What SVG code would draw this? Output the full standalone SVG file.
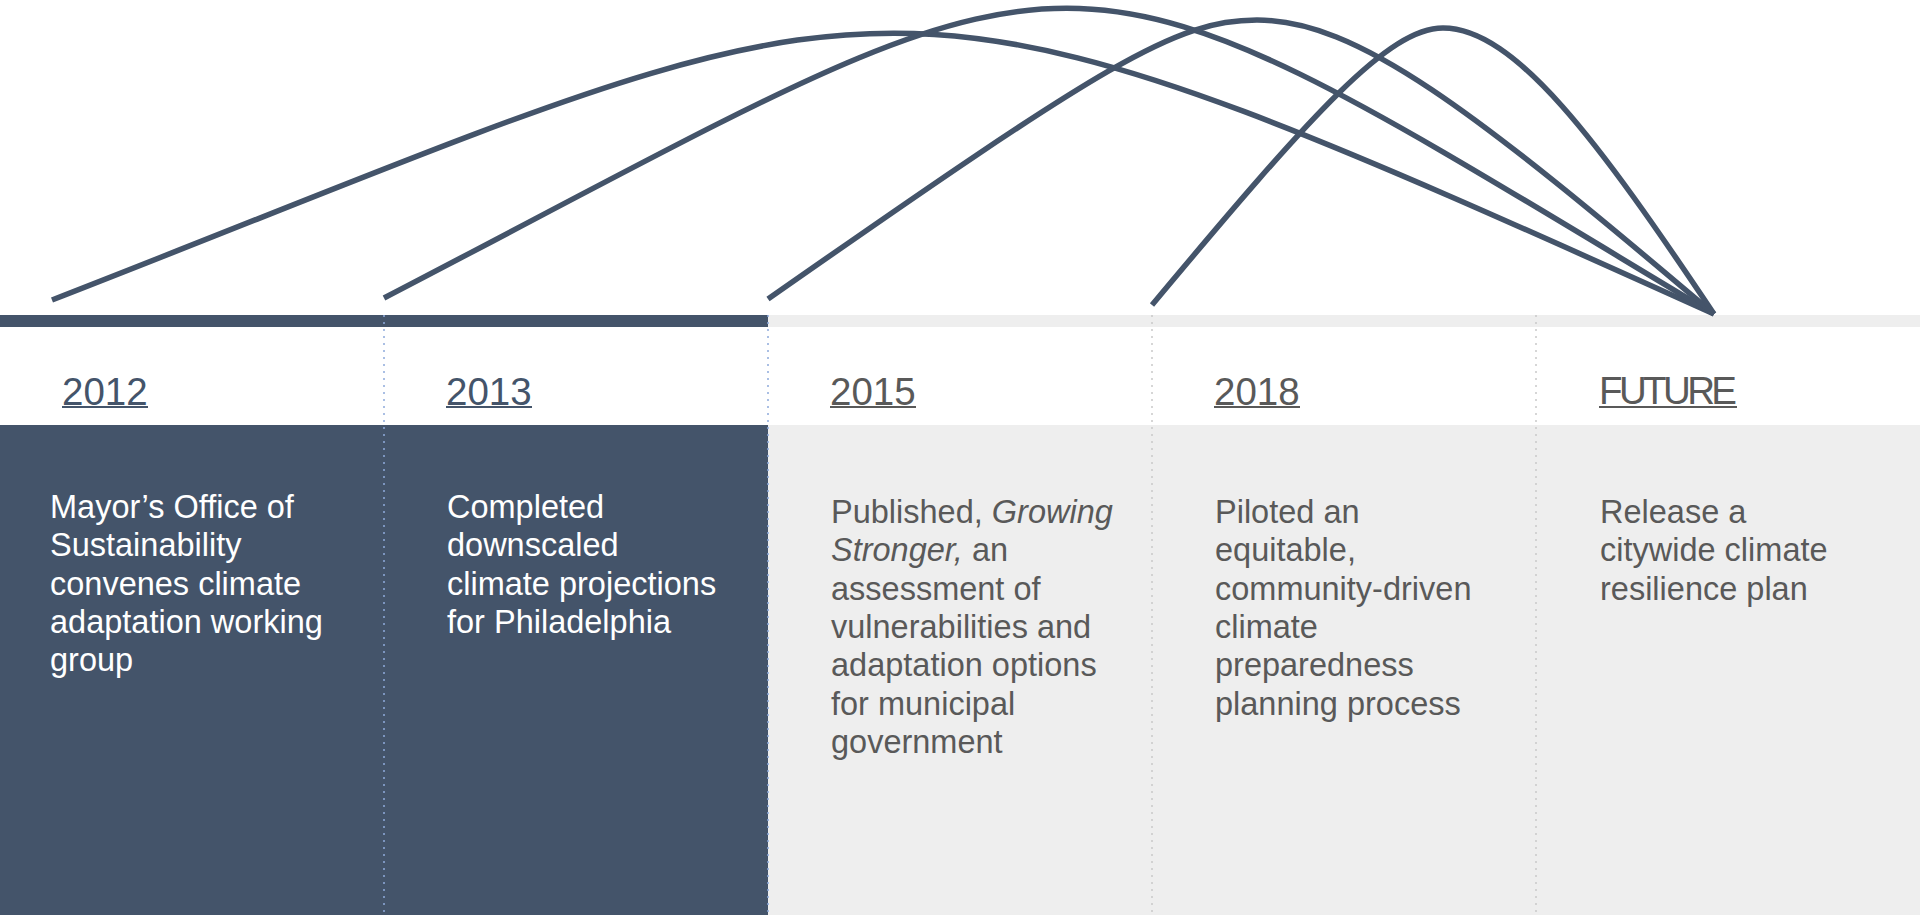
<svg xmlns="http://www.w3.org/2000/svg" width="1920" height="915" viewBox="0 0 1920 915">
  <style>
    .arc { fill: none; stroke: #44546A; stroke-width: 5.5; stroke-linecap: butt; }
    .yr { font-family: "Liberation Sans", Arial, Helvetica, sans-serif; font-size: 38.5px; }
    .txt { font-family: "Liberation Sans", Arial, Helvetica, sans-serif; font-size: 32.5px; }
    .done { fill: #44546A; }
    .todo { fill: #EEEEEE; }
    .done-yr { fill: #44546A; }
    .todo-yr { fill: #595959; }
    .done-txt { fill: #FFFFFF; }
    .todo-txt { fill: #595959; }
    .ul-done { stroke: #44546A; stroke-width: 2; }
    .ul-todo { stroke: #595959; stroke-width: 2; }
    .div-blue { stroke: #8FAADC; stroke-width: 1.5; stroke-dasharray: 2 5; }
    .div-grey { stroke: #C9C9C9; stroke-width: 1.5; stroke-dasharray: 2 5; }
    i { font-style: italic; }
  </style>

  <rect width="1920" height="915" fill="#FFFFFF"/>

  <!-- timeline bar: completed part dark, remaining part light -->
  <g id="timeline-bar">
    <rect x="0" y="315" width="768" height="12" class="done"/>
    <rect x="768" y="315" width="1152" height="12" class="todo"/>
  </g>

  <!-- 2012 -->
  <g id="node-2012">
    <rect x="0" y="425" width="384" height="490" class="done"/>
    <text x="62" y="405" class="yr done-yr">2012</text>
    <line x1="62" y1="407" x2="148" y2="407" class="ul-done"/>
    <text class="txt done-txt" y="518">
      <tspan x="50">Mayor’s Office of</tspan>
      <tspan x="50" dy="38.3">Sustainability</tspan>
      <tspan x="50" dy="38.3">convenes climate</tspan>
      <tspan x="50" dy="38.3">adaptation working</tspan>
      <tspan x="50" dy="38.3">group</tspan>
    </text>
  </g>

  <!-- 2013 -->
  <g id="node-2013">
    <rect x="384" y="425" width="384" height="490" class="done"/>
    <text x="446" y="405" class="yr done-yr">2013</text>
    <line x1="446" y1="407" x2="532" y2="407" class="ul-done"/>
    <text class="txt done-txt" y="518">
      <tspan x="447">Completed</tspan>
      <tspan x="447" dy="38.3">downscaled</tspan>
      <tspan x="447" dy="38.3">climate projections</tspan>
      <tspan x="447" dy="38.3">for Philadelphia</tspan>
    </text>
  </g>

  <!-- 2015 -->
  <g id="node-2015">
    <rect x="768" y="425" width="384" height="490" class="todo"/>
    <text x="830" y="405" class="yr todo-yr">2015</text>
    <line x1="830" y1="407" x2="916" y2="407" class="ul-todo"/>
    <text class="txt todo-txt" y="522.7">
      <tspan x="831">Published, <tspan font-style="italic">Growing</tspan></tspan>
      <tspan x="831" dy="38.4"><tspan font-style="italic">Stronger,</tspan> an</tspan>
      <tspan x="831" dy="38.4">assessment of</tspan>
      <tspan x="831" dy="38.4">vulnerabilities and</tspan>
      <tspan x="831" dy="38.4">adaptation options</tspan>
      <tspan x="831" dy="38.4">for municipal</tspan>
      <tspan x="831" dy="38.4">government</tspan>
    </text>
  </g>

  <!-- 2018 -->
  <g id="node-2018">
    <rect x="1152" y="425" width="384" height="490" class="todo"/>
    <text x="1214" y="405" class="yr todo-yr">2018</text>
    <line x1="1214" y1="407" x2="1300" y2="407" class="ul-todo"/>
    <text class="txt todo-txt" y="522.7">
      <tspan x="1215">Piloted an</tspan>
      <tspan x="1215" dy="38.4">equitable,</tspan>
      <tspan x="1215" dy="38.4">community-driven</tspan>
      <tspan x="1215" dy="38.4">climate</tspan>
      <tspan x="1215" dy="38.4">preparedness</tspan>
      <tspan x="1215" dy="38.4">planning process</tspan>
    </text>
  </g>

  <!-- future -->
  <g id="node-future">
    <rect x="1536" y="425" width="384" height="490" class="todo"/>
    <text x="1599" y="404" class="yr todo-yr" textLength="138" lengthAdjust="spacing">FUTURE</text>
    <line x1="1599" y1="407" x2="1737" y2="407" class="ul-todo"/>
    <text class="txt todo-txt" y="522.7">
      <tspan x="1600">Release a</tspan>
      <tspan x="1600" dy="38.4">citywide climate</tspan>
      <tspan x="1600" dy="38.4">resilience plan</tspan>
    </text>
  </g>

  <!-- dotted column dividers -->
  <g id="dividers">
    <line x1="384" y1="315" x2="384" y2="915" class="div-blue"/>
    <line x1="768" y1="315" x2="768" y2="915" class="div-blue"/>
    <line x1="1152" y1="315" x2="1152" y2="915" class="div-grey"/>
    <line x1="1536" y1="315" x2="1536" y2="915" class="div-grey"/>
  </g>

  <!-- arcs from each milestone to the future point -->
  <g id="connectors">
    <path class="arc" d="M52,300 C920,-38 845,-78 1714,314"/>
    <path class="arc" d="M384,298 C1119,-84 1027,-98 1714,314"/>
    <path class="arc" d="M768,299 C1107,62 1176,20 1257,20 C1357,20 1471,108 1714,314"/>
    <path class="arc" d="M1152,305 C1314,111 1389,28 1443,28 C1515,28 1599,142 1714,314"/>
  </g>
</svg>
